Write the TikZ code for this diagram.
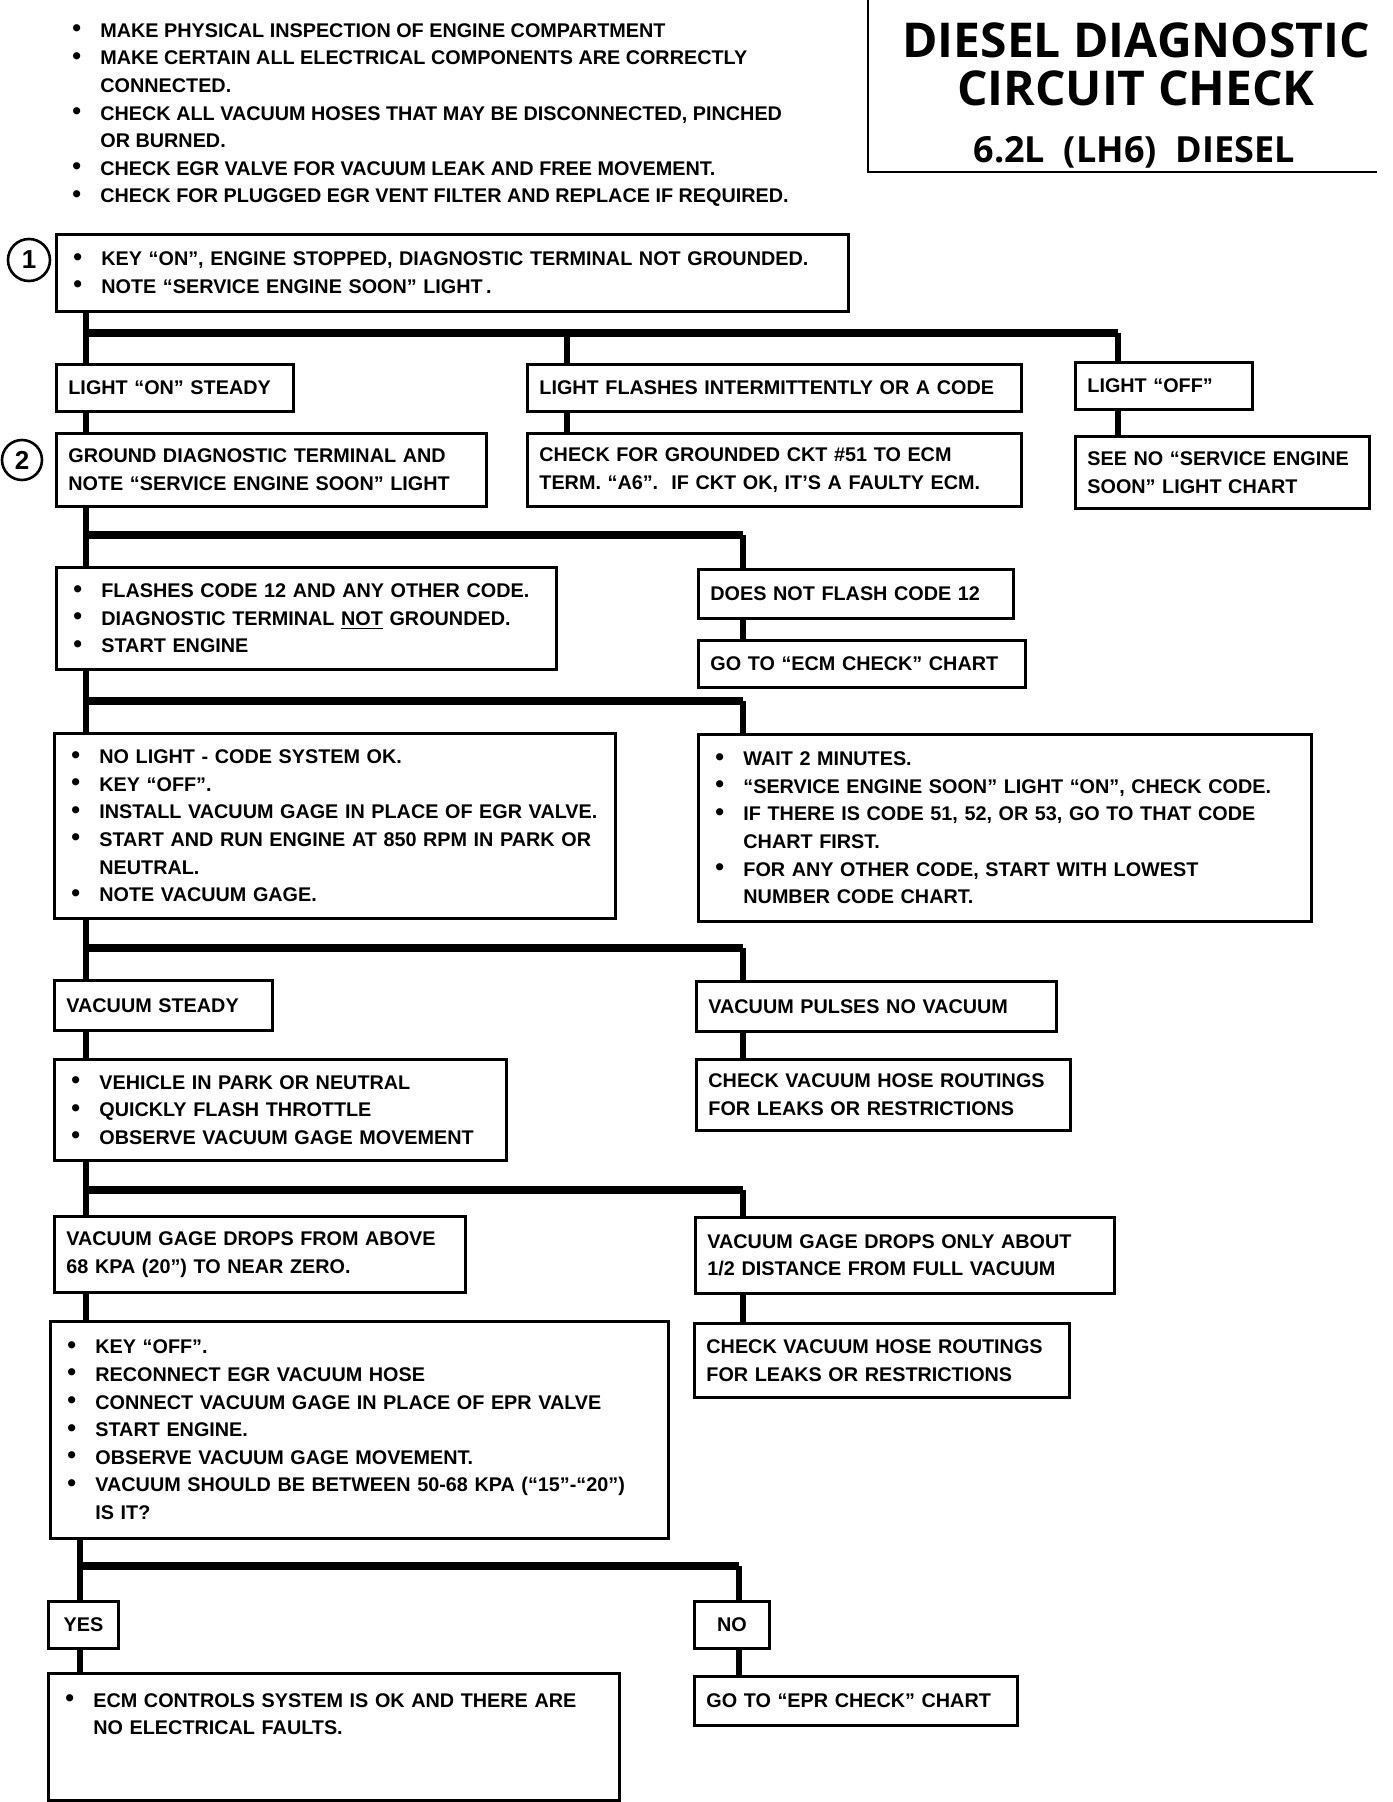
\documentclass[tikz,border=0pt]{standalone}
\usepackage{fontspec}
\setmainfont{Liberation Sans}
\newfontfamily\titlefont{Open Sans}

\newcommand{\bodyfont}{\fontsize{9.9}{13.8}\selectfont\bfseries}
\newcommand{\bul}{\makebox[16.5pt][l]{\hspace{2.5pt}\raisebox{0.3pt}{\fontsize{12.5}{12}\selectfont\textbullet}}}
\newcommand{\ind}{\hspace*{16.5pt}}

\begin{document}
\begin{tikzpicture}[x=0.5pt,y=-0.5pt,line join=miter,
  box/.style={draw,line width=1.4pt,anchor=north west,align=left,
    inner xsep=6pt,inner ysep=0pt,font=\bodyfont},
  yesno/.style={box,align=center},
  link/.style={line width=2.8pt},
  bar/.style={line width=3.8pt},
  frame/.style={line width=1.2pt},
  stepno/.style={draw,circle,line width=1.3pt,inner sep=0pt,
    font=\fontsize{13}{13}\selectfont\bfseries}]
  \useasboundingbox (0,0) rectangle (1392,1802);

  % title block
  \node[font=\titlefont\bfseries\fontsize{24}{24}\selectfont,align=center] (title) at (1136,64)
    {DIESEL DIAGNOSTIC\\CIRCUIT CHECK};
  \node[font=\titlefont\bfseries\fontsize{18}{18}\selectfont] (engine) at (1134,152)
    {6.2L\ \ (LH6)\ \ DIESEL};
  \draw[frame] (868,0) |- (1377,172);

  % preliminary checks
  \node[anchor=north west,align=left,inner sep=0pt,font=\bodyfont] (prechk) at (67,23)
    {\bul MAKE PHYSICAL INSPECTION OF ENGINE COMPARTMENT\\
     \bul MAKE CERTAIN ALL ELECTRICAL COMPONENTS ARE CORRECTLY\\
     \ind CONNECTED.\\
     \bul CHECK ALL VACUUM HOSES THAT MAY BE DISCONNECTED, PINCHED\\
     \ind OR BURNED.\\
     \bul CHECK EGR VALVE FOR VACUUM LEAK AND FREE MOVEMENT.\\
     \bul CHECK FOR PLUGGED EGR VENT FILTER AND REPLACE IF REQUIRED.};

  % ---- step 1 ----
  \node[stepno,minimum size=21pt] (s1) at (29,260) {1};
  \node[box,text width=384pt,minimum height=38.5pt] (keyon) at (55,233)
    {\bul KEY ``ON'', ENGINE STOPPED, DIAGNOSTIC TERMINAL NOT GROUNDED.\\
     \bul NOTE ``SERVICE ENGINE SOON'' LIGHT\,.};
  \node[box,text width=106.5pt,minimum height=23.5pt] (onst) at (55,363) {LIGHT ``ON'' STEADY};
  \node[box,text width=235pt,minimum height=23.5pt] (flash) at (526,363)
    {LIGHT FLASHES INTERMITTENTLY OR A CODE};
  \node[box,text width=76.5pt,minimum height=23.5pt] (off) at (1074,361) {LIGHT ``OFF''};

  % ---- step 2 ----
  \node[stepno,minimum size=20pt] (s2) at (22,460) {2};
  \node[box,text width=203pt,minimum height=36.5pt] (gnd) at (55,432)
    {GROUND DIAGNOSTIC TERMINAL AND\\NOTE ``SERVICE ENGINE SOON'' LIGHT};
  \node[box,text width=235pt,minimum height=36.5pt] (ckt) at (526,432)
    {CHECK FOR GROUNDED CKT \#51 TO ECM\\TERM. ``A6''.\ \ IF CKT OK, IT'S A FAULTY ECM.};
  \node[box,text width=135pt,minimum height=36pt] (seeno) at (1074,435)
    {SEE NO ``SERVICE ENGINE\\SOON'' LIGHT CHART};

  \node[box,text width=238pt,minimum height=51pt] (codes) at (55,566)
    {\bul FLASHES CODE 12 AND ANY OTHER CODE.\\
     \bul DIAGNOSTIC TERMINAL \underline{NOT} GROUNDED.\\
     \bul START ENGINE};
  \node[box,text width=145.5pt,minimum height=24.5pt] (noflash) at (697,568) {DOES NOT FLASH CODE 12};
  \node[box,text width=151.5pt,minimum height=23.5pt] (ecmchk) at (697,639) {GO TO ``ECM CHECK'' CHART};

  \node[box,text width=268.5pt,minimum height=92.5pt] (nolight) at (53,732)
    {\bul NO LIGHT - CODE SYSTEM OK.\\
     \bul KEY ``OFF''.\\
     \bul INSTALL VACUUM GAGE IN PLACE OF EGR VALVE.\\
     \bul START AND RUN ENGINE AT 850 RPM IN PARK OR\\
     \ind NEUTRAL.\\
     \bul NOTE VACUUM GAGE.};
  \node[box,text width=294.5pt,minimum height=93.5pt] (wait) at (697,733)
    {\bul WAIT 2 MINUTES.\\
     \bul ``SERVICE ENGINE SOON'' LIGHT ``ON'', CHECK CODE.\\
     \bul IF THERE IS CODE 51, 52, OR 53, GO TO THAT CODE\\
     \ind CHART FIRST.\\
     \bul FOR ANY OTHER CODE, START WITH LOWEST\\
     \ind NUMBER CODE CHART.};

  % ---- vacuum checks ----
  \node[box,text width=97pt,minimum height=25pt] (vsteady) at (53,979) {VACUUM STEADY};
  \node[box,text width=168pt,minimum height=25pt] (vpulse) at (695,980) {VACUUM PULSES NO VACUUM};
  \node[box,text width=214pt,minimum height=50.5pt] (thr) at (53,1058)
    {\bul VEHICLE IN PARK OR NEUTRAL\\
     \bul QUICKLY FLASH THROTTLE\\
     \bul OBSERVE VACUUM GAGE MOVEMENT};
  \node[box,text width=175pt,minimum height=35.5pt] (hose1) at (695,1058)
    {CHECK VACUUM HOSE ROUTINGS\\FOR LEAKS OR RESTRICTIONS};

  \node[box,text width=193.5pt,minimum height=38pt] (drop) at (53,1215)
    {VACUUM GAGE DROPS FROM ABOVE\\68 KPA (20'') TO NEAR ZERO.};
  \node[box,text width=197.5pt,minimum height=38pt] (half) at (694,1216)
    {VACUUM GAGE DROPS ONLY ABOUT\\1/2 DISTANCE FROM FULL VACUUM};
  \node[box,text width=297pt,minimum height=108.5pt] (epr) at (49,1320)
    {\bul KEY ``OFF''.\\
     \bul RECONNECT EGR VACUUM HOSE\\
     \bul CONNECT VACUUM GAGE IN PLACE OF EPR VALVE\\
     \bul START ENGINE.\\
     \bul OBSERVE VACUUM GAGE MOVEMENT.\\
     \bul VACUUM SHOULD BE BETWEEN 50-68 KPA (``15''-``20'')\\
     \ind IS IT?};
  \node[box,text width=175.5pt,minimum height=37pt] (hose2) at (693,1322)
    {CHECK VACUUM HOSE ROUTINGS\\FOR LEAKS OR RESTRICTIONS};

  % ---- result ----
  \node[yesno,text width=23pt,minimum height=23.5pt] (yes) at (47,1600) {YES};
  \node[yesno,text width=25.5pt,minimum height=23.5pt] (no) at (693,1600) {NO};
  \node[box,text width=273.5pt,minimum height=63.5pt] (ok) at (47,1672)
    {\bul ECM CONTROLS SYSTEM IS OK AND THERE ARE\\
     \ind NO ELECTRICAL FAULTS.\\[9pt]\mbox{}};
  \node[box,text width=149.5pt,minimum height=24.5pt] (eprchk) at (693,1675) {GO TO ``EPR CHECK'' CHART};

  % branch bars
  \coordinate (t1) at (86,333);  \coordinate (m1) at (567,333);  \coordinate (r1) at (1118,333);
  \coordinate (t2) at (86,535);  \coordinate (r2) at (743,535);
  \coordinate (t3) at (86,701);  \coordinate (r3) at (743,701);
  \coordinate (t4) at (86,948);  \coordinate (r4) at (743,948);
  \coordinate (t5) at (86,1190); \coordinate (r5) at (743,1190);
  \coordinate (t6) at (80,1566); \coordinate (r6) at (739,1566);
  \draw[bar] (t1) -- (r1);
  \draw[bar] (t2) -- (r2);
  \draw[bar] (t3) -- (r3);
  \draw[bar] (t4) -- (r4);
  \draw[bar] (t5) -- (r5);
  \draw[bar] (t6) -- (r6);

  % left trunk
  \draw[link] (keyon.south -| t1) -- (onst.north -| t1);
  \draw[link] (onst.south -| t1) -- (gnd.north -| t1);
  \draw[link] (gnd.south -| t2) -- (codes.north -| t2);
  \draw[link] (codes.south -| t3) -- (nolight.north -| t3);
  \draw[link] (nolight.south -| t4) -- (vsteady.north -| t4);
  \draw[link] (vsteady.south -| t4) -- (thr.north -| t4);
  \draw[link] (thr.south -| t5) -- (drop.north -| t5);
  \draw[link] (drop.south -| t5) -- (epr.north -| t5);
  \draw[link] (epr.south -| t6) -- (yes.north -| t6);
  \draw[link] (yes.south -| t6) -- (ok.north -| t6);

  % right branches
  \draw[link] (m1) -- (flash.north -| m1);
  \draw[link] (flash.south -| m1) -- (ckt.north -| m1);
  \draw[link] (r1) -- (off.north -| r1);
  \draw[link] (off.south -| r1) -- (seeno.north -| r1);
  \draw[link] (r2) -- (noflash.north -| r2);
  \draw[link] (noflash.south -| r2) -- (ecmchk.north -| r2);
  \draw[link] (r3) -- (wait.north -| r3);
  \draw[link] (r4) -- (vpulse.north -| r4);
  \draw[link] (vpulse.south -| r4) -- (hose1.north -| r4);
  \draw[link] (r5) -- (half.north -| r5);
  \draw[link] (half.south -| r5) -- (hose2.north -| r5);
  \draw[link] (r6) -- (no.north -| r6);
  \draw[link] (no.south -| r6) -- (eprchk.north -| r6);
\end{tikzpicture}
\end{document}
